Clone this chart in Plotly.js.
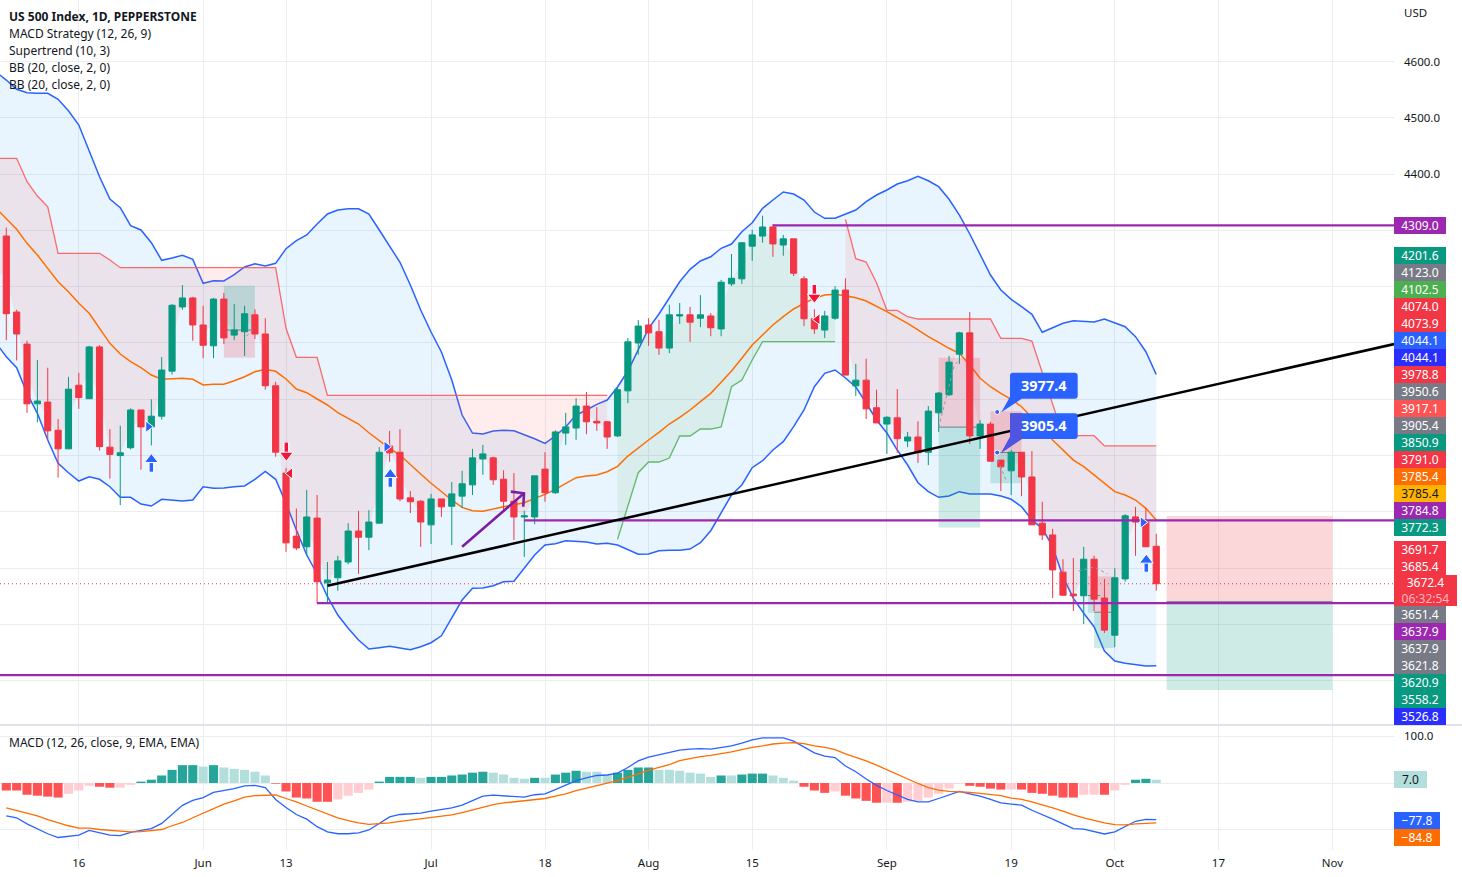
<!DOCTYPE html>
<html><head><meta charset="utf-8">
<script src="https://cdn.plot.ly/plotly-3.0.1.min.js"></script>
<style>html,body{margin:0;padding:0;background:#fff;overflow:hidden}#c{width:1462px;height:877px}</style>
</head><body><div id="c"></div>
<script>
// ---------- candles (bar index 0..111) ----------
const opens=[4290,4155,4098,3992,3995,3945,3912,4025,4001,4093,3915,3900,3914,3981,3951,3970,4050,4164,4180,4132,4095,4178,4114,4120,4150,4116,4024,3869,3757,3738,3789,3674,3683,3711,3766,3755,3780,3917,3906,3825,3819,3777,3823,3810,3828,3848,3894,3896,3858,3819,3791,3791,3876,3834,3940,3949,3988,3961,3960,3935,4015,4100,4132,4120,4091,4148,4150,4144,4148,4125,4205,4214,4272,4290,4306,4274,4285,4214,4143,4123,4144,4194,4024,4034,3985,3956,3967,3926,3933,3906,3976,4008,4080,4118,3935,3956,3892,3873,3906,3862,3780,3759,3693,3654,3651,3716,3647,3581,3681,3791,3782,3739];
const highs=[4305,4159,4104,4070,4056,3965,4040,4047,4095,4096,3947,3953,3984,3981,4000,4075,4169,4203,4182,4166,4180,4189,4169,4166,4160,4144,4031,3878,3806,3839,3830,3711,3722,3780,3802,3803,3915,3944,3947,3837,3821,3832,3823,3853,3873,3912,3919,3898,3874,3869,3802,3864,3906,3945,3976,4002,4013,3986,3961,4021,4109,4141,4144,4141,4168,4171,4164,4185,4153,4212,4258,4279,4301,4326,4311,4292,4285,4219,4160,4157,4201,4215,4063,4072,4017,3970,4018,3942,3961,3988,4013,4077,4120,4155,3963,3960,3892,3910,3906,3908,3818,3770,3716,3718,3738,3722,3681,3700,3796,3809,3807,3761];
const lows=[4105,4069,3976,3959,3928,3861,3912,3983,4001,3909,3859,3812,3911,3875,3918,3964,4044,4159,4104,4073,4073,4098,4105,4077,4107,4017,3898,3729,3732,3722,3638,3638,3660,3707,3690,3732,3780,3889,3819,3798,3738,3743,3791,3741,3807,3830,3866,3848,3803,3750,3720,3778,3818,3832,3919,3928,3938,3944,3912,3933,3993,4079,4095,4079,4082,4134,4102,4128,4112,4112,4201,4205,4246,4278,4253,4255,4219,4130,4116,4109,4141,4043,4006,3965,3958,3903,3905,3915,3887,3883,3942,4006,4063,3921,3912,3890,3837,3830,3828,3777,3750,3647,3652,3624,3601,3624,3585,3560,3676,3722,3738,3660];
const closes=[4152,4116,3992,3997,3944,3912,4018,4003,4093,3916,3902,3905,3981,3951,3970,4052,4167,4180,4132,4096,4178,4109,4123,4152,4116,4024,3906,3745,3736,3791,3676,3679,3713,3766,3755,3782,3906,3905,3823,3818,3782,3823,3809,3832,3850,3896,3903,3857,3819,3791,3793,3864,3834,3942,3951,3988,3960,3958,3933,4017,4102,4130,4118,4091,4150,4150,4137,4150,4127,4208,4215,4278,4292,4306,4276,4285,4224,4143,4125,4148,4194,4043,4034,3983,3958,3968,3930,3933,3905,3979,4011,4066,4118,3935,3956,3890,3880,3906,3862,3777,3759,3697,3652,3651,3716,3645,3590,3683,3793,3782,3738,3672.4];
// ---------- Bollinger bands (bar index -1..111) ----------
const bbUpper=[4581.3,4567,4550.6,4544.5,4543.5,4543.5,4532.8,4512.6,4487.2,4442.8,4395.3,4355.8,4340.3,4308.3,4300.7,4278.1,4246.9,4251,4255.7,4248.6,4206,4210.6,4210.1,4221.3,4235,4240.8,4236.7,4241.5,4267.5,4281.7,4291.8,4311.3,4329.1,4336.2,4338.5,4338.5,4329.1,4300.7,4271,4243.3,4203,4158.6,4119.5,4084,4034.2,3972,3940,3938.3,3943.6,3944.9,3944.2,3937.8,3930,3921.8,3934.8,3951.3,3972,3981,3991,3998.7,4021.8,4050.2,4087.5,4126.1,4151.5,4180.4,4208.8,4230.9,4245.6,4253.2,4268.2,4275.8,4297.6,4313.6,4339.2,4354,4368.2,4364.6,4354,4332.6,4321.5,4321.5,4328.7,4336.2,4351,4362.8,4371.7,4382.4,4388.2,4396,4388.2,4377.6,4355.2,4327.3,4293.6,4258,4220.7,4194.1,4177.6,4164.4,4151,4119,4127.1,4135,4139.6,4137.8,4137.3,4142.6,4136,4128.9,4111.2,4084.5,4044.1];
const bbLower=[4100,4075.6,4056.1,4010.6,3975.1,3927.7,3886.3,3869.6,3854.8,3862.5,3857.9,3844.7,3825.9,3825.9,3814,3810.4,3822.4,3821.1,3819.3,3821.1,3844.7,3841.9,3842.4,3844.7,3846,3857.9,3872,3857.9,3815.2,3767.8,3723.4,3689.7,3649.3,3616.8,3593.2,3572.4,3556.4,3558.8,3561.2,3558.2,3555.2,3560.5,3567.6,3580,3612.8,3643.5,3664.3,3664.8,3668.9,3676,3676.7,3699.8,3723.4,3741.2,3743.5,3748.8,3747.4,3746.5,3743,3744.2,3741.2,3733.5,3724.7,3725.2,3731,3731.8,3731.8,3734,3745.3,3766.6,3797.4,3830,3847.8,3878.5,3890.9,3910,3924.7,3951.3,3981,4022.3,4046.1,4052,4037.8,4021.8,3993.4,3963.2,3940.1,3909.9,3883.3,3851.8,3835.9,3825.9,3828.2,3835.9,3831.8,3831.8,3831.8,3828.2,3822.4,3809.2,3785.6,3770.8,3738.2,3684.9,3646.5,3619.9,3596,3552.9,3535.1,3531,3528.6,3526.2,3526.8];
const bbBasis=[4339.7,4321.5,4301.9,4277,4256.3,4232.6,4208.8,4191.1,4170.5,4152.7,4126.1,4099.4,4080.4,4066.8,4056.1,4043.1,4035.5,4036,4037.3,4035.5,4025.4,4026.6,4026.6,4033,4040.1,4049,4053.3,4049.7,4036,4018.3,4011.7,4000.5,3989.9,3976.2,3966.2,3956.1,3940.6,3926.4,3913,3901,3883.3,3867.3,3850.8,3835.9,3821.1,3808.1,3802.1,3801,3805.6,3809.2,3812.8,3816.3,3824.1,3831.2,3840.1,3850.8,3860.7,3863.8,3865.5,3871.4,3881,3899.2,3914,3927.7,3941.3,3956.1,3968,3981,3995.7,4010.6,4030.2,4050.2,4072.8,4096.4,4114.2,4131.9,4146.7,4160.4,4170.5,4179.4,4185.2,4186.5,4184,4180.4,4174.6,4165.7,4155.6,4144.9,4135,4123.1,4111.2,4101.2,4090.6,4081.7,4060.9,4037.3,4022.3,4010.6,3999.9,3986.8,3968,3948.4,3927.7,3909.9,3892.1,3880.3,3865.5,3850.8,3835.9,3830,3821.1,3806.3,3785.4];
// ---------- Supertrend (three runs) ----------
const stRedA=[4428,4428,4428,4386.5,4361,4342,4259.3,4259.3,4259.3,4259.3,4259.3,4247.4,4233.7,4233.7,4233.7,4233.7,4233.7,4233.7,4233.7,4233.7,4233.7,4233.7,4233.7,4233.7,4233.7,4233.7,4233.7,4233.7,4126.1,4074.6,4074.6,4074.6,4007,4007,4007,4007,4007,4007,4007,4007,4007,4007,4007,4007,4007,4007,4007,4007,4007,4007,4007,4007,4007,4007,4007,4007,4007,4007,4007,4007];
const stRedAFirst=-1;
const stGreen=[3751.3,3812.2,3869.6,3888.6,3888.6,3895.7,3934.8,3934.8,3947.2,3947.2,3950.8,4022.3,4034.2,4069.8,4102.5,4102.5,4102.5,4102.5,4102.5,4102.5,4102.5,4102.5];
const stGreenFirst=59;
const stRedB=[4319.7,4249.7,4243.8,4207,4158,4158,4146.7,4142.6,4142.6,4142.6,4142.6,4142.6,4142.6,4142.6,4142.6,4108.3,4108.3,4108.3,4103.5,4048.4,3989.8,3935.3,3935.3,3935.3,3935.3,3917.1,3917.1,3917.1,3917.1,3917.1,3917.1];
const stRedBFirst=81;
// ---------- MACD panel ----------
const macdHist=[-16,-16,-25,-27,-29,-31,-23,-16,-6,-8,-10,-10,-4,3,7,16,28,38,38,35,38,33,30,28,24,16,-1.4,-18,-31,-33,-40,-40,-35,-27,-21,-14,3,13,13,13,11,13,13,16,18,22,24,22,18,11,9,11,11,18,22,26,24,24,18,22,28,33,33,28,28,26,22,20,13,16,16,18,20,20,16,11,5,-8,-16,-21,-18,-27,-33,-38,-42,-42,-42,-40,-38,-31,-23,-12,-1.4,-6,-8,-12,-14,-14,-14,-21,-23,-27,-31,-31,-25,-25,-25,-16,-4,7,9,7];
const histShade="SSSSSSLLLSSLLSSSSSSLSLLLLLSSSSSSLLLLSSSSLSSSSSSLLLLSLSSSLLLSSSSLLLLLLSLSSSLLLSSSLSSSSLSLLLLLLSSSSLSSSSSSLLSLLSSL";
const macdLine=[-70,-74,-87,-98,-108,-116,-113,-111,-101,-106,-111,-112,-105,-101,-97,-86,-66,-47.5,-37,-31,-20,-16,-12,-6,-5,-10,-35,-52,-67,-77,-93,-104,-108,-108,-106,-100,-86,-72,-67,-65,-64,-60,-57,-53,-47,-37,-28,-26,-27,-28,-30,-25,-23,-14,-5,5,11,16,17,21,33,47,55,60,65,70,72,73,72,76,79,85,92,96,96,96,89,76,64,57,54,36,24,8.5,-5,-16,-25.5,-35,-40,-40,-33,-25,-18,-23,-28,-35,-42.5,-45,-47,-58,-67,-77,-87,-97,-98,-104,-108.5,-104,-92,-81.5,-77.3,-77.8];
const signalLine=[-53,-59,-64,-70,-78,-85,-91,-96,-96,-99,-101,-103.5,-104,-103.5,-101,-99,-91,-84,-74,-64,-55,-45,-38,-30,-27,-25.5,-25.5,-33,-40,-49,-57,-66,-74,-80,-85,-88,-87,-85,-81.5,-79,-77,-74,-72,-68,-63,-57,-51,-46,-42.5,-40,-38,-35,-33,-28,-23,-16,-11,-5,-0.7,5,12,20,27,33,39,47.5,52,56,59,62,66,71,76,79,83,85,86,84,79,76,71,62,55,47,38,28,18,8,-1,-10,-15,-18,-18.5,-20,-22,-24,-27,-32,-35,-40,-46,-53,-60,-68,-74,-80,-85,-88.6,-89.3,-87,-85.8,-84.8];
// ---------- axis labels ----------
const tickIdx=[7,19,27,41,52,62,72,85,97,107,117,128];
const tickLabels=["16","Jun","13","Jul","18","Aug","15","Sep","19","Oct","17","Nov"];
const priceTicks=[3500,3600,3700,3800,3900,4000,4100,4200,4300,4400,4500,4600];
const priceTickText=["","","","","","","","","","4400.0","4500.0","4600.0"];
const macdTicks=[-100,0,100];
const macdTickText=["","","100.0"];
const lastPrice=3672.4;
// ---------- drawings, in bar index and price ----------
const levelPrices=[4309,3784.8,3637.9,3510];
const levelStart=[74,50,30,-1];
const trendX=[31,133.95], trendP=[3669,4098];
const arrowX=[44,49.97,null,48.7,49.97,49.9], arrowP=[3738,3833,null,3836,3833,3809.2];
// from, to, top, middle, bottom, top colour is red (true) or green (false)
const boxFrom=[21,90,95,105,112], boxTo=[24,94,98,107,128];
const boxTop=[4201.6,4074,3978.8,3685.4,3792.7], boxMid=[4123,3950.6,3905.4,3621.8,3640.5], boxBottom=[4073.9,3772.3,3850.9,3558.2,3483.6];
const boxTopRed=[false,true,true,true,true];
const arrowUpX=[14,37.07,110.04], arrowUpTip=[3898,3871.4,3719.3], arrowUpTail=[3871.4,3844.7,3693.8];
const arrowDownX=[27.03,78], arrowDownTip=[3895.7,4176.3], arrowDownTail=[3923,4203];
const triRightX=[13.7,36.7,109.7], triRightP=[3951.3,3915.8,3781.5];
const triLeftX=[27.4,78.3], triLeftP=[3868.5,4142];
const pathX=[23.2,24,null,90,91.5,92,null,95.7,96.6,null,103.5,105,106.3];
const pathP=[4112,4128,null,3950,4060,4070,null,3892,3852,null,3695,3702,3690];
const calloutX=[95.65,95.65], calloutP=[3977.4,3905.4];
const calloutText=["3977.4","3905.4"];
// right-hand price labels
const labelTexts=["4309.0","4201.6","4123.0","4102.5","4074.0","4073.9","4044.1","4044.1","3978.8","3950.6","3917.1","3905.4","3850.9","3791.0","3785.4","3785.4","3784.8","3772.3","3691.7","3685.4","3651.4","3637.9","3637.9","3621.8","3620.9","3558.2","3526.8"];
const labelColors=["#9c27b0","#089981","#787b86","#4caf50","#f23645","#f23645","#2962ff","#2a2eff","#f23645","#787b86","#ff5252","#787b86","#089981","#f23645","#ff6d00","#ffb300","#9c27b0","#089981","#f23645","#f23645","#787b86","#9c27b0","#787b86","#787b86","#089981","#089981","#2a2eff"];
const labelY=[225.5,255.5,272.5,289.5,306.5,323.5,340.5,357.5,374.5,391.5,408.5,425.5,442.5,459.5,476.5,493.5,510.5,527.5,549.5,566.5,614.5,631.5,648.5,665.5,682.5,699.5,716.5];
const legendLines=["<b>US 500 Index, 1D, PEPPERSTONE</b>","MACD Strategy (12, 26, 9)","Supertrend (10, 3)","BB (20, close, 2, 0)","BB (20, close, 2, 0)"];
const legendY=[16.5,33.5,50.5,67.5,84.5];

// ---------- build ----------
const FONT='"Noto Sans", sans-serif', INK='#131722';
const W=1394,H=850;
const PX=p=>p/W, PY=p=>1-p/H;
const barIdx=opens.map((_,i)=>i);
const lineIdx=[-1].concat(barIdx);
const mids=opens.map((o,i)=>(o+closes[i])/2);
const midsL=[mids[0]].concat(mids);
const xR=[-0.608,133.95], yR=[3421.5,4709.2], mR=[-142.6,121.3];
const line=(x,y,color,width,extra)=>Object.assign({type:'scatter',mode:'lines',x,y,line:{color,width},hoverinfo:'skip'},extra||{});
const base={xaxis:'x',yaxis:'y'}, top3={xaxis:'x3',yaxis:'y3'}, mac={xaxis:'x',yaxis:'y4'};
const traces=[];
// Bollinger
traces.push(line(lineIdx,bbUpper,'#2962ff',1.5,base));
traces.push(line(lineIdx,bbLower,'#2962ff',1.5,Object.assign({fill:'tonexty',fillcolor:'rgba(33,150,243,0.1)'},base)));
// last price
traces.push(line(xR,[lastPrice,lastPrice],'#f23645',1,Object.assign({line:{color:'#f23645',width:1,dash:'1px 3px'}},base)));
// Supertrend fills
function seg(vals,first,color,fill){
  const xs=vals.map((_,i)=>first+i);
  const ms=xs.map(i=>midsL[i+1]);
  traces.push(line(xs,ms,'rgba(0,0,0,0)',0,base));
  traces.push(line(xs,vals,color,1.3,Object.assign({fill:'tonexty',fillcolor:fill},base)));
}
seg(stRedA,stRedAFirst,'rgba(255,82,82,0.85)','rgba(255,82,82,0.1)');
seg(stGreen,stGreenFirst,'rgba(76,175,80,0.85)','rgba(76,175,80,0.1)');
seg(stRedB,stRedBFirst,'rgba(255,82,82,0.85)','rgba(255,82,82,0.1)');
traces.push(line(lineIdx,bbBasis,'#ff6d00',1.5,base));
// position boxes
const RED='rgba(242,54,69,0.2)', GRN='rgba(8,153,129,0.2)';
function rect(a,b,t,u,c){traces.push(line([a,b,b,a,a],[t,t,u,u,t],'rgba(0,0,0,0)',0,Object.assign({fill:'toself',fillcolor:c},base)));}
boxFrom.forEach((a,k)=>{
  const b=boxTo[k];
  rect(a,b,boxTop[k],boxMid[k],boxTopRed[k]?RED:GRN);
  rect(a,b,boxMid[k],boxBottom[k],boxTopRed[k]?GRN:RED);
  traces.push(line([a,b],[boxMid[k],boxMid[k]],'#787b86',1,base));
});
rect(104.4,105,3685.4,3651.4,RED); rect(104.4,105,3651.4,3620.9,GRN);
traces.push(line([104.4,105.6],[3651.4,3651.4],'#787b86',1,base));
// candles
traces.push({type:'candlestick',x:barIdx,open:opens,high:highs,low:lows,close:closes,xaxis:'x2',yaxis:'y2',whiskerwidth:0,
  increasing:{line:{color:'#089981',width:1},fillcolor:'#089981'},decreasing:{line:{color:'#f23645',width:1},fillcolor:'#f23645'},hoverinfo:'skip'});
// drawings on top
traces.push(line(pathX,pathP,'#9598a1',1,Object.assign({line:{color:'#9598a1',width:1,dash:'3px 3px'}},top3)));
levelPrices.forEach((p,k)=>traces.push(line([levelStart[k],xR[1]],[p,p],'#9c27b0',2.3,top3)));
traces.push(line(trendX,trendP,'#000000',2.6,top3));
traces.push(line(arrowX,arrowP,'#7b1fa2',2.6,top3));
// signals
function shaft(xs,tips,tails,col){
  const X=[],Y=[];xs.forEach((x,i)=>{X.push(x,x,null);Y.push(tips[i],tails[i],null);});
  traces.push(line(X,Y,'#ffffff',6,top3));
  traces.push(line(X,Y,col,3.5,top3));
}
shaft(arrowUpX,arrowUpTip,arrowUpTail,'#2962ff');
shaft(arrowDownX,arrowDownTip,arrowDownTail,'#f7143c');
const mk=(x,y,sym,col,sz)=>Object.assign({type:'scatter',mode:'markers',x,y,marker:{symbol:sym,color:col,size:sz,line:{color:'#fff',width:1}},hoverinfo:'skip'},top3);
traces.push(mk(arrowUpX,arrowUpTip.map(v=>v-5),'triangle-up','#2962ff',12));
traces.push(mk(arrowDownX,arrowDownTip.map(v=>v+5),'triangle-down','#f7143c',12));
traces.push(mk(triRightX,triRightP,'triangle-right','#2962ff',10));
traces.push(mk(triLeftX,triLeftP,'triangle-left','#f7143c',10));
traces.push(mk(calloutX,calloutP,'circle','#4a5be8',5));
// MACD
traces.push({type:'bar',x:barIdx,y:macdHist,width:0.88,xaxis:'x',yaxis:'y4',hoverinfo:'skip',
  marker:{line:{width:0},color:macdHist.map((v,i)=>histShade[i]==='S'?(v>=0?'#26a69a':'#ff5252'):(v>=0?'#b2dfdb':'#ffcdd2'))}});
traces.push(line(barIdx,macdLine,'#2962ff',1.3,mac));
traces.push(line(barIdx,signalLine,'#ff6d00',1.3,mac));

const annotations=[];
function lab(t,py,bg,col,w,h){annotations.push({text:t,xref:'paper',yref:'paper',x:1,y:PY(py),xanchor:'left',yanchor:'middle',showarrow:false,
  bgcolor:bg,width:w,height:h,borderpad:0,borderwidth:0,align:'center',valign:'middle',font:{family:FONT,size:12,color:col}});}
labelTexts.forEach((t,i)=>lab(t,labelY[i],labelColors[i],labelColors[i]==='#ffb300'?INK:'#ffffff',52,17));
lab('3672.4<br><span style="color:#fbb9be">06:32:54</span>',590.5,'#f23645','#ffffff',63,31);
lab('7.0',779.5,'#b2dfdb',INK,33,17);
lab('−77.8',820,'#2962ff','#ffffff',46,17);
lab('−84.8',837,'#ff6d00','#ffffff',46,17);
legendLines.forEach((t,i)=>annotations.push({text:t,xref:'paper',yref:'paper',x:PX(7.5),y:PY(legendY[i]),xanchor:'left',yanchor:'middle',showarrow:false,align:'left',borderpad:0,font:{family:FONT,size:12,color:INK}}));
annotations.push({text:'MACD (12, 26, close, 9, EMA, EMA)',xref:'paper',yref:'paper',x:PX(7.5),y:PY(742.5),xanchor:'left',yanchor:'middle',showarrow:false,borderpad:0,font:{family:FONT,size:12,color:INK}});
annotations.push({text:'USD',xref:'paper',yref:'paper',x:PX(1403),y:PY(13),xanchor:'left',yanchor:'middle',showarrow:false,borderpad:0,font:{family:FONT,size:11.5,color:INK}});
[[385,calloutText[0]],[425,calloutText[1]]].forEach(([py,t])=>annotations.push({text:'<b>'+t+'</b>',xref:'paper',yref:'paper',x:PX(1044),y:PY(py),xanchor:'center',yanchor:'middle',showarrow:false,borderpad:0,font:{family:FONT,size:14.5,color:'#fff'}}));

function bubble(x0,x1,y0,y1,tx,ty){
  const r=3;const P=(a,b)=>PX(a)+','+PY(b);
  return 'M'+P(x0+r,y0)+' L'+P(x1-r,y0)+' Q'+P(x1,y0)+' '+P(x1,y0+r)+' L'+P(x1,y1-r)+' Q'+P(x1,y1)+' '+P(x1-r,y1)+
    ' L'+P(x0+11.7,y1)+' L'+P(tx,ty)+' L'+P(x0,y1-2)+' L'+P(x0,y0+r)+' Q'+P(x0,y0)+' '+P(x0+r,y0)+' Z';
}
const P2=(a,b)=>PX(a)+','+PY(b);
const shapes=[
 {type:'path',xref:'paper',yref:'paper',path:bubble(1010,1077.7,372.7,398.7,1001.3,412.3),fillcolor:'#2962ff',line:{width:0},layer:'above'},
 {type:'path',xref:'paper',yref:'paper',path:bubble(1010,1077.7,413.3,439,1001.3,452.7),fillcolor:'#2962ff',line:{width:0},layer:'above'},
 {type:'path',xref:'paper',yref:'paper',path:'M'+P2(1010,413.3)+' L'+P2(1022.3,413.3)+' L'+P2(1022.3,439)+' L'+P2(1021.7,439)+' L'+P2(1001.3,452.7)+' L'+P2(1010,437)+' Z',fillcolor:'#4f55df',line:{width:0},layer:'above'},
 {type:'line',xref:'paper',yref:'paper',x0:0,x1:1462/W,y0:PY(725),y1:PY(725),line:{color:'#e0e3eb',width:2},layer:'above'}
];
const grid='#ecedf1';
const layout={width:1462,height:877,margin:{l:0,r:68,t:0,b:27},paper_bgcolor:'#fff',plot_bgcolor:'#fff',showlegend:false,boxgap:0.15,barmode:'overlay',
 font:{family:FONT,size:11.5,color:INK},
 xaxis:{domain:[0,1],range:xR,anchor:'y4',tickmode:'array',tickvals:tickIdx,ticktext:tickLabels,showgrid:true,gridcolor:grid,gridwidth:1,zeroline:false,showline:false,ticks:'',rangeslider:{visible:false},tickfont:{family:FONT,size:11.5,color:INK},ticklabelstandoff:4,fixedrange:true},
 yaxis:{domain:[125/H,1],range:yR,side:'right',anchor:'x',tickmode:'array',tickvals:priceTicks,ticktext:priceTickText,showgrid:true,gridcolor:grid,zeroline:false,showline:false,ticks:'',tickfont:{family:FONT,size:11.5,color:INK},ticklabelstandoff:9,fixedrange:true},
 xaxis2:{overlaying:'x',anchor:'y2',range:xR,visible:false,fixedrange:true,rangeslider:{visible:false}},
 yaxis2:{overlaying:'y',anchor:'x2',range:yR,visible:false,fixedrange:true,side:'right'},
 xaxis3:{overlaying:'x',anchor:'y3',range:xR,visible:false,fixedrange:true},
 yaxis3:{overlaying:'y',anchor:'x3',range:yR,visible:false,fixedrange:true,side:'right'},
 yaxis4:{domain:[0,124/H],range:mR,side:'right',anchor:'x',tickmode:'array',tickvals:macdTicks,ticktext:macdTickText,showgrid:true,gridcolor:grid,zeroline:false,showline:false,ticks:'',tickfont:{family:FONT,size:11.5,color:INK},ticklabelstandoff:9,fixedrange:true},
 annotations,shapes};
Plotly.newPlot('c',traces,layout,{displayModeBar:false,staticPlot:true,responsive:false});
</script></body></html>
